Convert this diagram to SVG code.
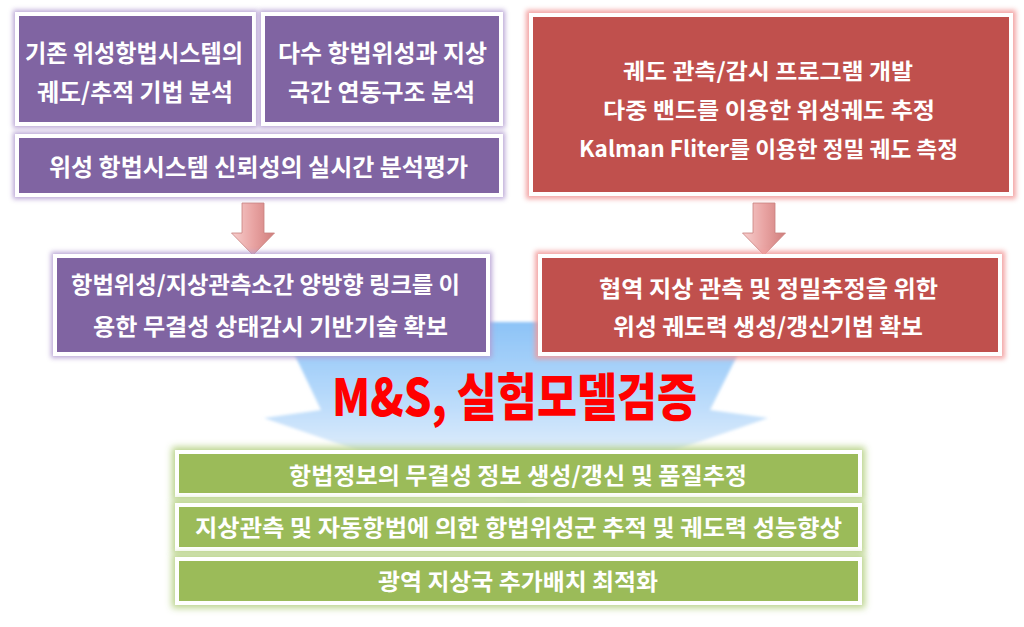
<svg xmlns="http://www.w3.org/2000/svg" width="1024" height="627" viewBox="0 0 1024 627">
<defs>
<style>
.t{font-family:"Noto Sans CJK KR","Noto Sans",sans-serif;font-weight:700;fill:#ffffff;}
.t24{font-size:24px;}
.t23{font-size:23px;}
.t22{font-size:22px;}
.box{stroke:#ffffff;stroke-width:4;}
.pur{fill:#8064a2;}
.red{fill:#c0504d;}
.grn{fill:#9bbb59;}
.ms{font-family:"Noto Sans CJK KR","Noto Sans",sans-serif;font-weight:900;font-size:51px;fill:#ff0000;}
</style>
<filter id="glowP" x="-10%" y="-40%" width="120%" height="180%" color-interpolation-filters="sRGB">
<feMorphology in="SourceAlpha" operator="dilate" radius="2" result="d"/>
<feGaussianBlur in="d" stdDeviation="2.5" result="b"/>
<feFlood flood-color="#b39dd2" flood-opacity="0.9"/>
<feComposite in2="b" operator="in" result="g"/>
<feMerge><feMergeNode in="g"/><feMergeNode in="SourceGraphic"/></feMerge>
</filter>
<filter id="glowR" x="-10%" y="-40%" width="120%" height="180%" color-interpolation-filters="sRGB">
<feMorphology in="SourceAlpha" operator="dilate" radius="3" result="d"/>
<feGaussianBlur in="d" stdDeviation="2.5" result="b"/>
<feFlood flood-color="#f29c9b" flood-opacity="0.9"/>
<feComposite in2="b" operator="in" result="g"/>
<feMerge><feMergeNode in="g"/><feMergeNode in="SourceGraphic"/></feMerge>
</filter>
<filter id="glowG" x="-10%" y="-40%" width="120%" height="180%" color-interpolation-filters="sRGB">
<feMorphology in="SourceAlpha" operator="dilate" radius="3" result="d"/>
<feGaussianBlur in="d" stdDeviation="3.5" result="b"/>
<feFlood flood-color="#b5d083" flood-opacity="0.95"/>
<feComposite in2="b" operator="in" result="g"/>
<feMerge><feMergeNode in="g"/><feMergeNode in="SourceGraphic"/></feMerge>
</filter>
<filter id="soft" x="-5%" y="-5%" width="110%" height="110%">
<feGaussianBlur stdDeviation="1.5"/>
</filter>
<linearGradient id="blueG" gradientUnits="userSpaceOnUse" x1="0" y1="322" x2="0" y2="505">
<stop offset="0" stop-color="#8cc3f7"/>
<stop offset="0.4" stop-color="#b6d9fa"/>
<stop offset="0.7" stop-color="#dcebfb"/>
<stop offset="1" stop-color="#f2f7fd"/>
</linearGradient>
<linearGradient id="pinkG" x1="0" y1="0" x2="1" y2="0">
<stop offset="0" stop-color="#f7cfce"/>
<stop offset="0.5" stop-color="#e9a4a3"/>
<stop offset="1" stop-color="#d07e7c"/>
</linearGradient>
<path id="arr" d="M -11,0 H 11 V 30 H 21.5 L 0,52 L -21.5,30 H -11 Z"/>
</defs>

<g id="connectors">
<path id="merge-arrow" d="M 279,322 L 754,322 L 710,410 L 768,418 L 516,505 L 264,418 L 321,410 Z" fill="url(#blueG)" filter="url(#soft)"/>
<use href="#arr" transform="translate(253,203)" fill="url(#pinkG)" stroke="#c8807e" stroke-width="0.8"/>
<use href="#arr" transform="translate(764,203)" fill="url(#pinkG)" stroke="#c8807e" stroke-width="0.8"/>
</g>

<g id="node-orbit-analysis">
<rect class="box pur" x="17" y="14" width="237" height="110" filter="url(#glowP)"/>
<text class="t t24" x="25" y="61.5" textLength="218" lengthAdjust="spacingAndGlyphs">기존 위성항법시스템의</text>
<text class="t t24" x="37" y="100.5" textLength="196" lengthAdjust="spacingAndGlyphs">궤도/추적 기법 분석</text>
</g>

<g id="node-link-analysis">
<rect class="box pur" x="263" y="14" width="238" height="110" filter="url(#glowP)"/>
<text class="t t24" x="278" y="61.5" textLength="209" lengthAdjust="spacingAndGlyphs">다수 항법위성과 지상</text>
<text class="t t24" x="288" y="100.5" textLength="187" lengthAdjust="spacingAndGlyphs">국간 연동구조 분석</text>
</g>

<g id="node-reliability">
<rect class="box pur" x="17" y="136" width="484" height="59" filter="url(#glowP)"/>
<text class="t t24" x="49" y="175.5" textLength="419" lengthAdjust="spacingAndGlyphs">위성 항법시스템 신뢰성의 실시간 분석평가</text>
</g>

<g id="node-orbit-program">
<rect class="box red" x="531" y="15" width="480" height="179" filter="url(#glowR)"/>
<text class="t t22" x="623" y="78.5" textLength="290" lengthAdjust="spacingAndGlyphs">궤도 관측/감시 프로그램 개발</text>
<text class="t t22" x="603" y="118" textLength="332" lengthAdjust="spacingAndGlyphs">다중 밴드를 이용한 위성궤도 추정</text>
<text class="t t22" x="579" y="156.5" textLength="379" lengthAdjust="spacingAndGlyphs">Kalman Fliter를 이용한 정밀 궤도 측정</text>
</g>

<g id="node-integrity-monitoring">
<rect class="box pur" x="55" y="256" width="433" height="98" filter="url(#glowP)"/>
<text class="t t23" x="71" y="293" textLength="389" lengthAdjust="spacingAndGlyphs">항법위성/지상관측소간 양방향 링크를 이</text>
<text class="t t23" x="93" y="335" textLength="355" lengthAdjust="spacingAndGlyphs">용한 무결성 상태감시 기반기술 확보</text>
</g>

<g id="node-ephemeris">
<rect class="box red" x="540" y="256" width="460" height="98" filter="url(#glowR)"/>
<text class="t t23" x="599" y="296.5" textLength="339" lengthAdjust="spacingAndGlyphs">협역 지상 관측 및 정밀추정을 위한</text>
<text class="t t23" x="613" y="335" textLength="310" lengthAdjust="spacingAndGlyphs">위성 궤도력 생성/갱신기법 확보</text>
</g>

<g id="label-ms">
<text class="ms" x="332" y="416" textLength="365" lengthAdjust="spacingAndGlyphs">M&amp;S, 실험모델검증</text>
</g>

<g id="node-result-1">
<rect class="box grn" x="177" y="452" width="683" height="43" filter="url(#glowG)"/>
<text class="t t23" x="289" y="483.5" textLength="458" lengthAdjust="spacingAndGlyphs">항법정보의 무결성 정보 생성/갱신 및 품질추정</text>
</g>

<g id="node-result-2">
<rect class="box grn" x="177" y="505" width="683" height="44" filter="url(#glowG)"/>
<text class="t t23" x="195" y="536" textLength="647" lengthAdjust="spacingAndGlyphs">지상관측 및 자동항법에 의한 항법위성군 추적 및 궤도력 성능향상</text>
</g>

<g id="node-result-3">
<rect class="box grn" x="177" y="559" width="683" height="44" filter="url(#glowG)"/>
<text class="t t23" x="378" y="590" textLength="280" lengthAdjust="spacingAndGlyphs">광역 지상국 추가배치 최적화</text>
</g>
</svg>
